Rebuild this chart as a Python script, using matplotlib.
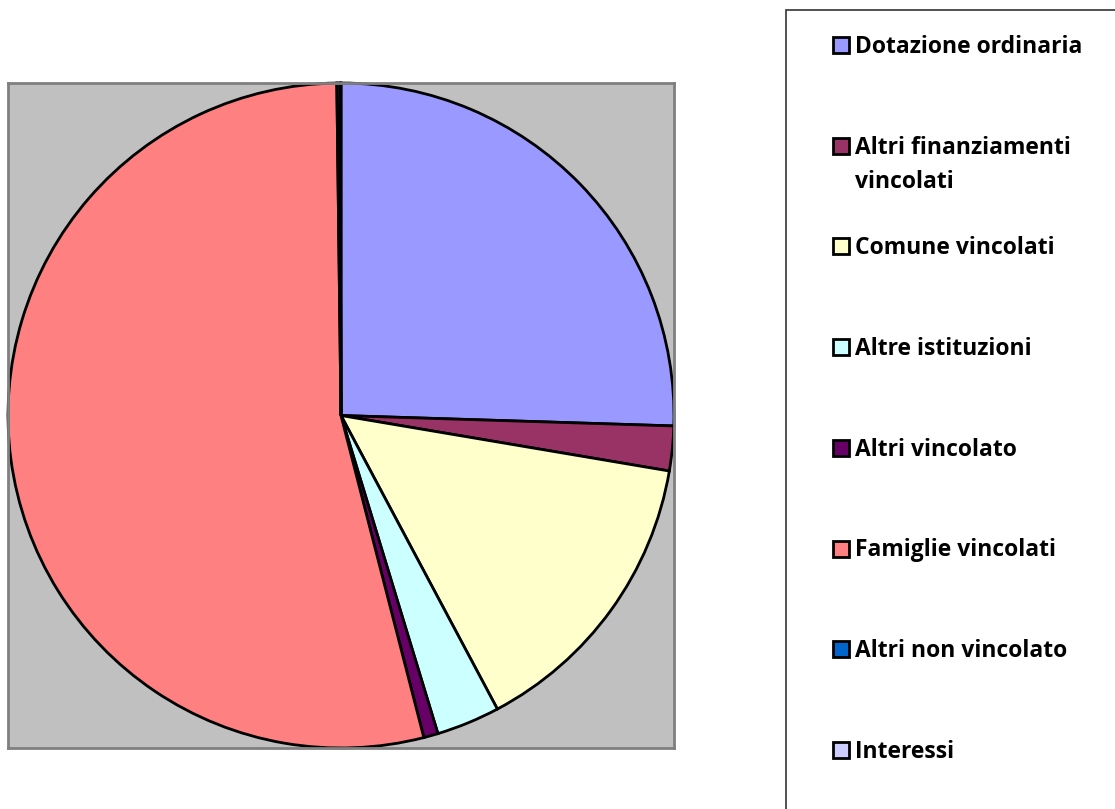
import matplotlib
matplotlib.use("Agg")
import matplotlib.pyplot as plt
from matplotlib.patches import Rectangle

# Dati (percentuali stimate dal grafico)
etichette = ["Dotazione ordinaria", "Altri finanziamenti\nvincolati", "Comune vincolati",
             "Altre istituzioni", "Altri vincolato", "Famiglie vincolati",
             "Altri non vincolato", "Interessi"]
valori = [25.5, 2.17, 14.55, 3.08, 0.7, 53.8, 0.15, 0.05]
colori = ["#9999FF", "#993366", "#FFFFCC", "#CCFFFF", "#660066", "#FF8080",
          "#0066CC", "#CCCCFF"]

W, H = 1115, 809
fig = plt.figure(figsize=(W / 100, H / 100), dpi=100)

# Area del grafico a torta
ax = fig.add_axes([8 / W, (H - 748) / H, 666 / W, 665 / H])
ax.pie(valori, colors=colori, startangle=90, counterclock=False, radius=1,
       frame=True, wedgeprops=dict(edgecolor="black", linewidth=2))
ax.set_facecolor("#C0C0C0")
ax.set_xlim(-1, 1)
ax.set_ylim(-1, 1)
ax.set_aspect("auto")
ax.set_xticks([])
ax.set_yticks([])
for s in ax.spines.values():
    s.set_edgecolor("#808080")
    s.set_linewidth(2)
    s.set_visible(True)

# Legenda disegnata a mano
fig.patches.append(Rectangle((786 / W, -5 / H), 340 / W, (H - 10 + 5) / H, transform=fig.transFigure,
                             facecolor="white", edgecolor="#333333", linewidth=1.2, zorder=0))
y0 = 45
passo = 100.7
for i, (lab, col) in enumerate(zip(etichette, colori)):
    y = y0 + i * passo
    fig.patches.append(Rectangle((833 / W, (H - y - 8) / H), 16 / W, 16 / H,
                                 transform=fig.transFigure, facecolor=col,
                                 edgecolor="black", linewidth=2, zorder=2))
    for j, riga in enumerate(lab.split("\n")):
        fig.text(855 / W, (H - y - 8 - 34 * j) / H, riga, fontsize=16.5, fontweight="bold",
                 family="Open Sans", va="baseline", ha="left")

fig.savefig("out.png", dpi=100)
